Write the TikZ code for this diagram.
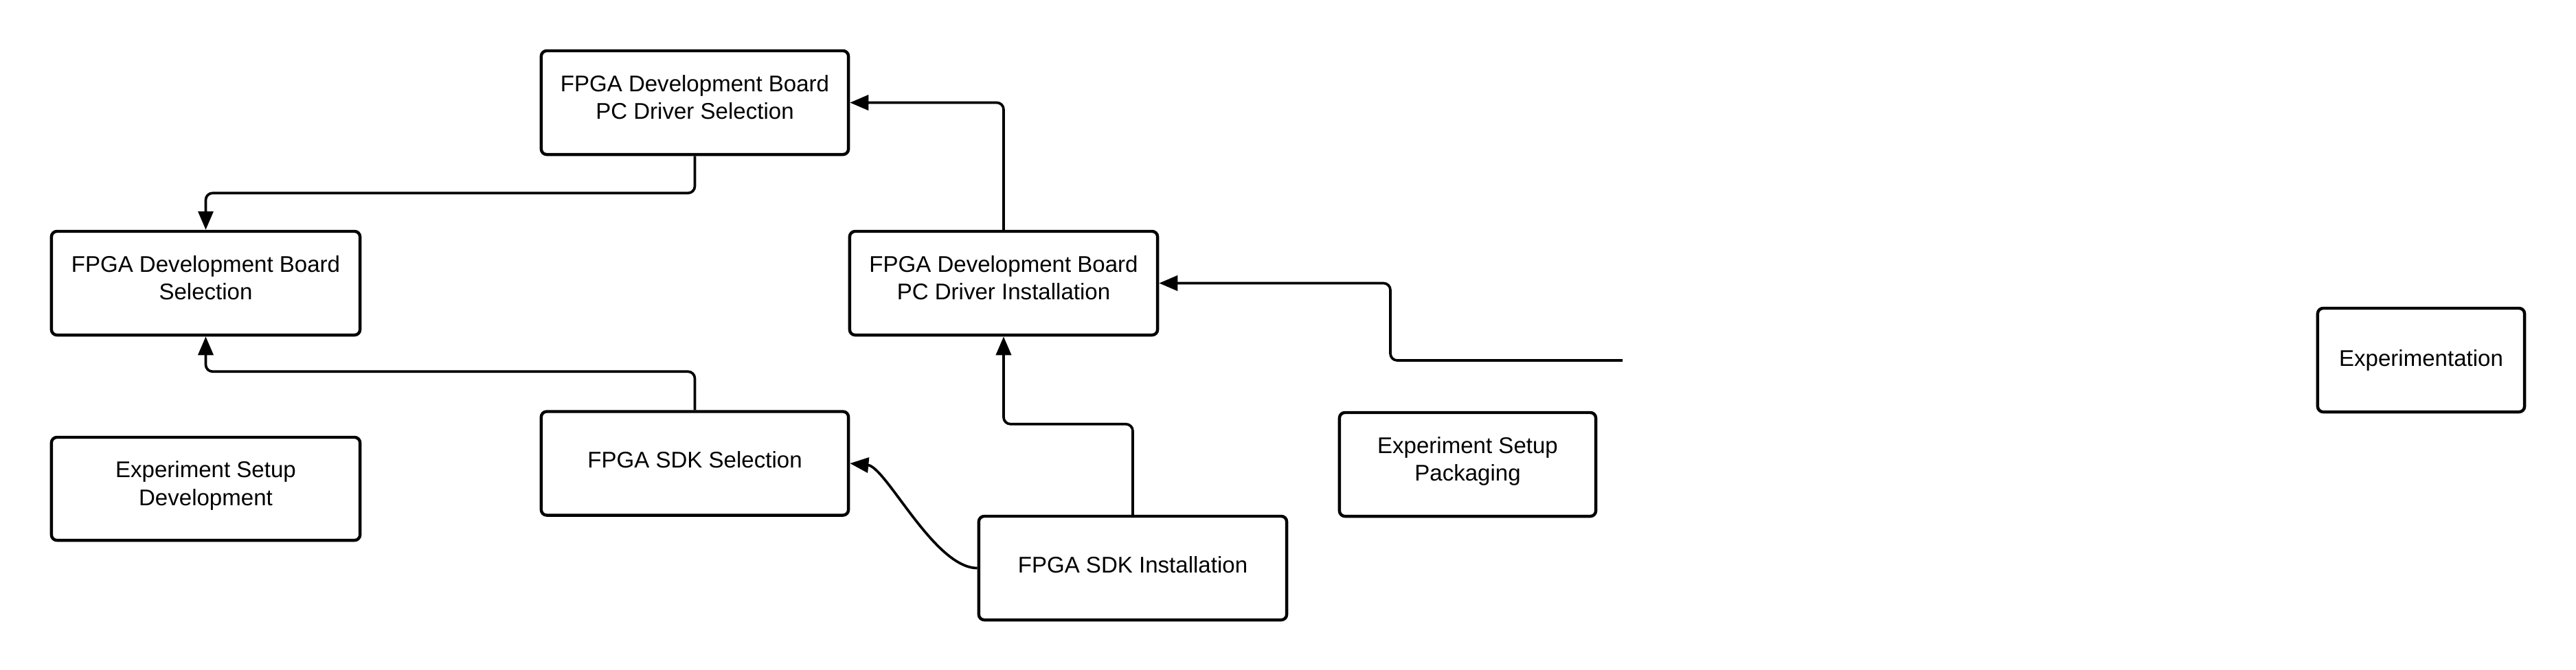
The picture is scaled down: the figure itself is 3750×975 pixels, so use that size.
\documentclass[tikz,border=0pt]{standalone}
\usepackage{fontspec}
\setmainfont{Liberation Sans}
\usetikzlibrary{arrows.meta}
\newcommand{\lowtwo}{\rule[-0.16cm]{0pt}{0.1pt}}
\newcommand{\lowone}{\rule[-0.1cm]{0pt}{0.1pt}}
\tikzset{
  box/.style={draw=black, line width=1.25pt, rounded corners=0.08cm, fill=white,
    inner sep=0pt, align=center, font=\fontsize{9.4}{11.4}\selectfont,
    minimum height=1.51cm},
  conn/.style={draw=black, line width=1.05pt, rounded corners=0.1cm,
    -{Triangle[length=0.27cm,width=0.22cm]}}
}
\begin{document}
\begin{tikzpicture}[x=0.01cm,y=-0.01cm]
\useasboundingbox (0,0) rectangle (3750,975);
\node[box, minimum width=4.47cm] (pds) at (1011.5,149.5) {FPGA Development Board\\PC Driver Selection\lowtwo};
\node[box, minimum width=4.49cm] (bs) at (299.5,412.5) {FPGA Development Board\\Selection\lowtwo};
\node[box, minimum width=4.48cm] (pdi) at (1461,412.5) {FPGA Development Board\\PC Driver Installation\lowtwo};
\node[box, minimum width=4.47cm] (sdks) at (1011.5,675) {FPGA SDK Selection\lowone};
\node[box, minimum width=4.49cm, minimum height=1.50cm] (esd) at (299.5,712) {Experiment Setup\\Development\lowtwo};
\node[box, minimum width=4.48cm] (sdki) at (1649,827.5) {FPGA SDK Installation\lowone};
\node[box, minimum width=3.73cm] (esp) at (2136.5,676.5) {Experiment Setup\\Packaging\lowtwo};
\node[box, minimum width=3.01cm] (exp) at (3524.5,524.5) {Experimentation};
\coordinate (free) at (2362,525);
% connectors
\draw[conn] (pds.south) -- ++(0,54) -| (bs.north);
\draw[conn] (sdks.north) -- ++(0,-56) -| (bs.south);
\draw[conn] (pdi.north) |- (pds.east);
\draw[conn] (sdki.north) -- ++(0,-132) -| (pdi.south);
\draw[conn] (free) -| (2024,412.5) -- (pdi.east);
\draw[conn, rounded corners=0pt] (sdki.west) .. controls (1360,827.5) and (1290,680) .. (sdks.east);
\end{tikzpicture}
\end{document}
